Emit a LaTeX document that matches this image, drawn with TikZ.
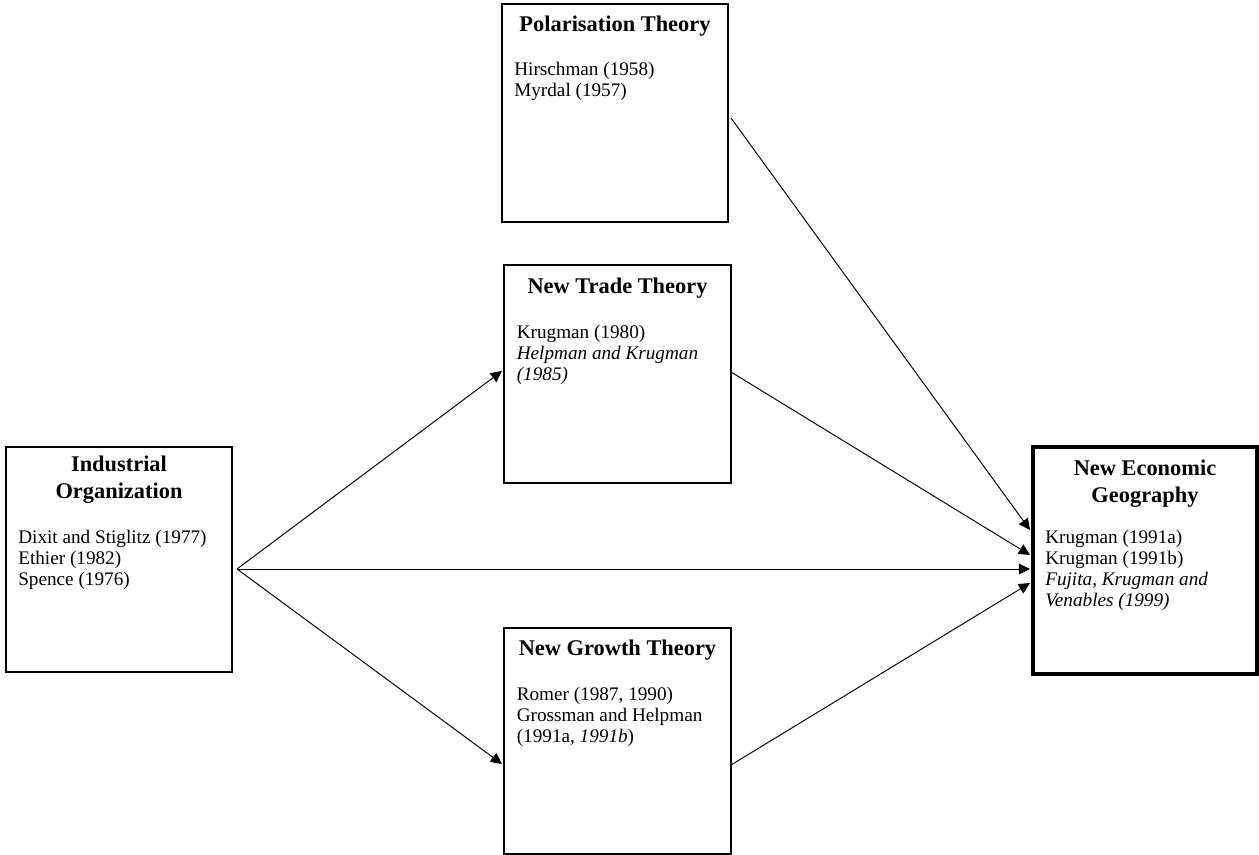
\documentclass[tikz,border=0pt]{standalone}
\usepackage{fontspec}
\setmainfont{Liberation Serif}
\usetikzlibrary{arrows.meta,fit}
\tikzset{
  box/.style={draw, line width=0.7pt, inner sep=0pt},
  thickbox/.style={draw, line width=2.2pt, inner sep=0pt},
  arr/.style={-{Triangle[length=7pt,width=6.8pt]}, line width=0.6pt},
  ttl/.style={anchor=base, inner sep=0pt, font=\fontsize{14pt}{16.7pt}\selectfont\bfseries},
  bod/.style={anchor=base west, inner sep=0pt, font=\fontsize{12pt}{13.2pt}\selectfont}
}
\begin{document}
\begin{tikzpicture}[x=0.625pt,y=-0.625pt]
\useasboundingbox (0,0) rectangle (1259,855);
% boxes
\node[box, fit={(502,4) (728,222)}] (pol) {};
\node[box, fit={(504,265) (731,483)}] (trade) {};
\node[box, fit={(6,447) (232,672)}] (io) {};
\node[box, fit={(504,628) (731,854)}] (growth) {};
\node[thickbox, fit={(1033,447) (1257,674)}] (neg) {};
% titles
\node[ttl] (pol-t) at (615,31) {\parbox[t]{140pt}{\centering Polarisation Theory}};
\node[ttl] (trade-t) at (617.5,293) {\parbox[t]{140pt}{\centering New Trade Theory}};
\node[ttl] (io-t) at (119,471.5) {\parbox[t]{140pt}{\centering Industrial\\Organization}};
\node[ttl] (growth-t) at (617.5,655.5) {\parbox[t]{140pt}{\centering New Growth Theory}};
\node[ttl] (neg-t) at (1145,475.5) {\parbox[t]{140pt}{\centering New Economic\\Geography}};
% bodies
\node[bod] (pol-b) at (514,75) {\parbox[t]{135pt}{\raggedright Hirschman (1958)\\Myrdal (1957)}};
\node[bod] (trade-b) at (516.5,338) {\parbox[t]{135pt}{\raggedright Krugman (1980)\\\textit{Helpman and Krugman}\\\textit{(1985)}}};
\node[bod] (io-b) at (18,543) {\parbox[t]{135pt}{\raggedright Dixit and Stiglitz (1977)\\Ethier (1982)\\Spence (1976)}};
\node[bod] (growth-b) at (516.5,700) {\parbox[t]{135pt}{\raggedright Romer (1987, 1990)\\Grossman and Helpman\\(1991a, \textit{1991b})}};
\node[bod] (neg-b) at (1045,543) {\parbox[t]{135pt}{\raggedright Krugman (1991a)\\Krugman (1991b)\\\textit{Fujita, Krugman and}\\\textit{Venables (1999)}}};
% connector end points
\coordinate (io-out) at (237,569);
\coordinate (trade-in) at (502,371);
\coordinate (growth-in) at (502,764);
\coordinate (pol-out) at (731,118);
\coordinate (trade-out) at (731,372);
\coordinate (growth-out) at (731,765);
\coordinate (neg-in1) at (1030,530);
\coordinate (neg-in2) at (1030,555);
\coordinate (neg-in3) at (1030,569);
\coordinate (neg-in4) at (1030,583);
% connectors
\draw[arr] (io-out) -- (trade-in);
\draw[arr] (io-out) -- (growth-in);
\draw[arr] (io-out) -- (neg-in3);
\draw[arr] (pol-out) -- (neg-in1);
\draw[arr] (trade-out) -- (neg-in2);
\draw[arr] (growth-out) -- (neg-in4);
\end{tikzpicture}
\end{document}
